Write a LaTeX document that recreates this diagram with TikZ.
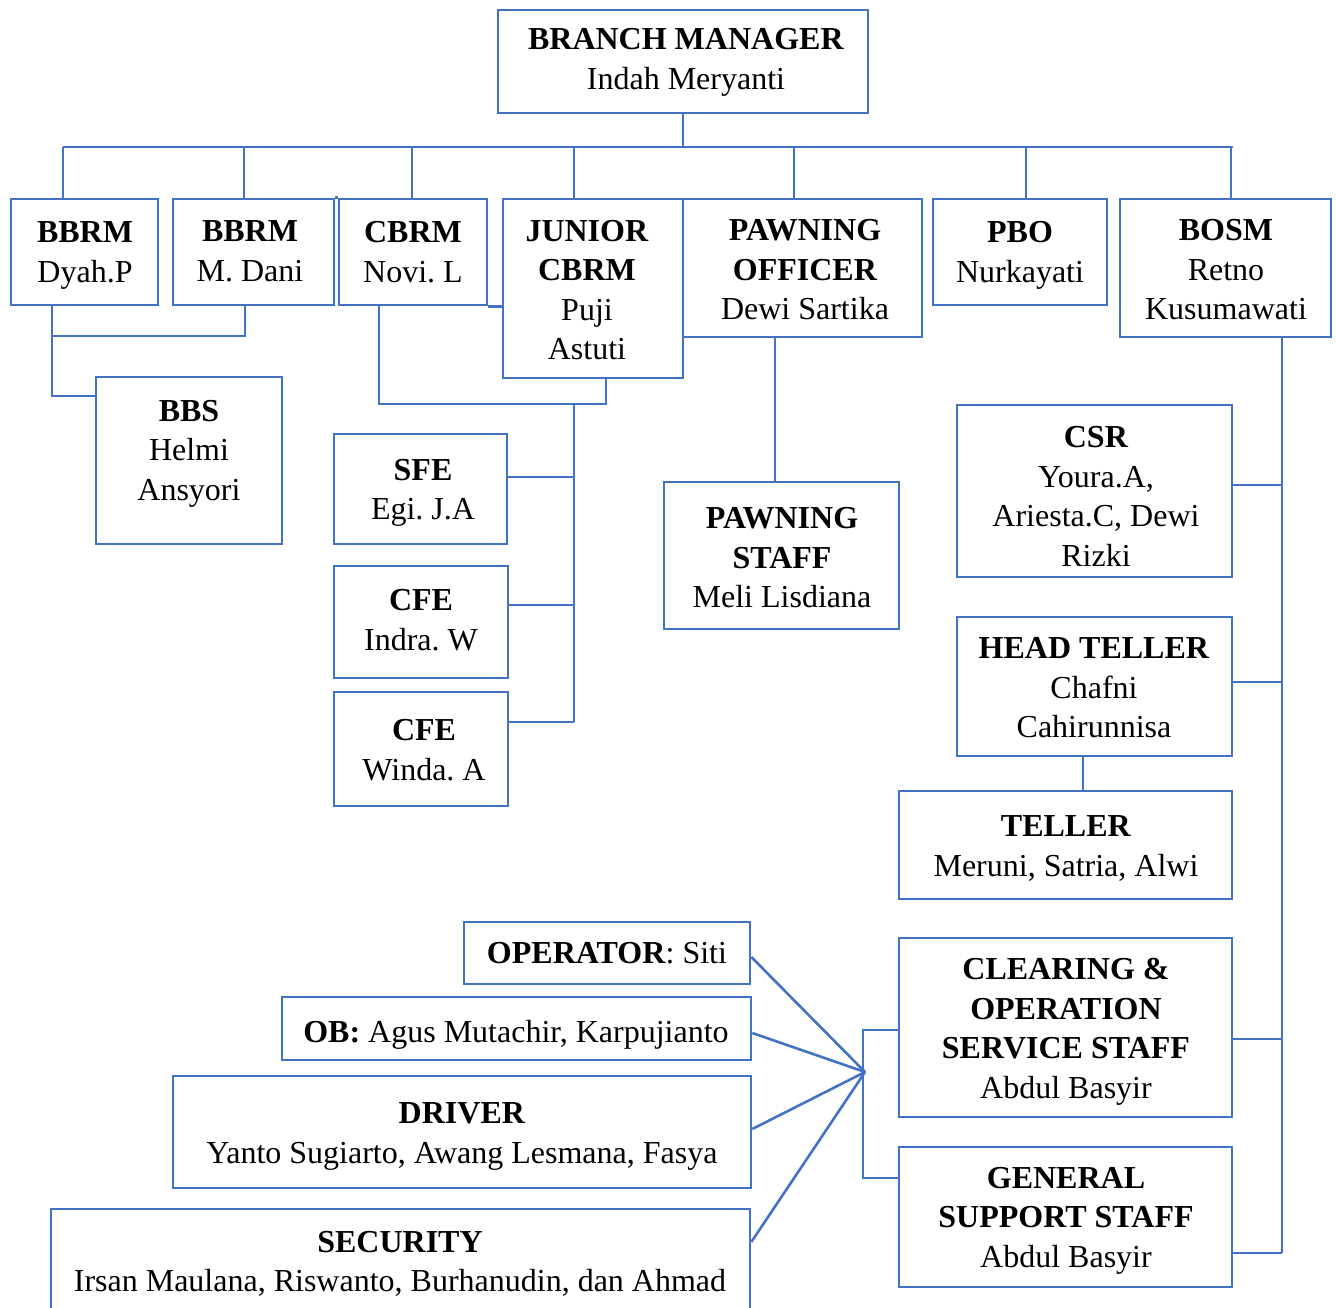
\documentclass[tikz,border=0pt]{standalone}
\usepackage{fontspec}
\setmainfont{Liberation Serif}
\frenchspacing
\definecolor{lnblue}{HTML}{4472C4}
\newcommand\ls{\rule[-9pt]{0pt}{39.5pt}}
\newcommand\mybox[5]{\node[box, minimum width={#4-#2}, minimum height={#5-#3}] (#1) at ({(#2+#4)/2},{(#3+#5)/2}) {};}
\begin{document}
\begin{tikzpicture}[x=1pt,y=-1pt,
  box/.style={draw=lnblue, line width=2.6pt, rectangle, inner sep=0pt},
  txt/.style={align=center, inner sep=0pt, font=\fontsize{32}{39.5}\selectfont\frenchspacing},
  conn/.style={draw=lnblue, line width=2.6pt}]
\useasboundingbox (0,0) rectangle (1336,1307);
% boxes
\mybox{bm}{498}{10}{868}{113}
\mybox{b1}{11}{199}{158}{305}
\mybox{b2}{173}{199}{334}{305}
\mybox{cb}{339}{199}{487}{305}
\mybox{jc}{503}{199}{683}{378}
\mybox{po}{683}{199}{922}{337}
\mybox{pbo}{933}{199}{1107}{305}
\mybox{bosm}{1120}{199}{1331}{337}
\mybox{bbs}{96}{377}{282}{544}
\mybox{sfe}{334}{434}{507}{544}
\mybox{cfea}{334}{566}{508}{678}
\mybox{cfeb}{334}{692}{508}{806}
\mybox{ps}{664}{482}{899}{629}
\mybox{csr}{957}{405}{1232}{577}
\mybox{ht}{957}{617}{1232}{756}
\mybox{tel}{899}{791}{1232}{899}
\mybox{cos}{899}{938}{1232}{1117}
\mybox{gss}{899}{1147}{1232}{1287}
\mybox{op}{464}{922}{750}{984}
\mybox{ob}{282}{997}{751}{1060}
\mybox{dr}{173}{1076}{751}{1188}
\mybox{sec}{51}{1209}{750}{1340}
% texts
\node[txt] (bmt) at (686,58.5) {\ls\textbf{BRANCH MANAGER}\\\ls Indah Meryanti};
\node[txt] (b1t) at (85,251.5) {\ls\textbf{BBRM}\\\ls Dyah.P};
\node[txt] (b2t) at (250,250.5) {\ls\textbf{BBRM}\\\ls M. Dani};
\node[txt] (cbt) at (413,251.5) {\ls\textbf{CBRM}\\\ls Novi. L};
\node[txt] (jct) at (587,289.5) {\ls\textbf{JUNIOR}\\\ls\textbf{CBRM}\\\ls Puji\\\ls Astuti};
\node[txt] (pot) at (805,269.5) {\ls\textbf{PAWNING}\\\ls\textbf{OFFICER}\\\ls Dewi Sartika};
\node[txt] (pbot) at (1020,251.5) {\ls\textbf{PBO}\\\ls Nurkayati};
\node[txt] (bosmt) at (1226,269.5) {\ls\textbf{BOSM}\\\ls Retno\\\ls Kusumawati};
\node[txt] (bbst) at (189,450) {\ls\textbf{BBS}\\\ls Helmi\\\ls Ansyori};
\node[txt] (sfet) at (423,489) {\ls\textbf{SFE}\\\ls Egi. J.A};
\node[txt] (cfeat) at (421,619.5) {\ls\textbf{CFE}\\\ls Indra. W};
\node[txt] (cfebt) at (424,749.5) {\ls\textbf{CFE}\\\ls Winda. A};
\node[txt] (pst) at (782,557.5) {\ls\textbf{PAWNING}\\\ls\textbf{STAFF}\\\ls Meli Lisdiana};
\node[txt] (csrt) at (1096,496) {\ls\textbf{CSR}\\\ls Youra.A,\\\ls Ariesta.C, Dewi\\\ls Rizki};
\node[txt] (htt) at (1094,687.5) {\ls\textbf{HEAD TELLER}\\\ls Chafni\\\ls Cahirunnisa};
\node[txt] (telt) at (1066,845.5) {\ls\textbf{TELLER}\\\ls Meruni, Satria, Alwi};
\node[txt] (cost) at (1066,1028) {\ls\textbf{CLEARING \&}\\\ls\textbf{OPERATION}\\\ls\textbf{SERVICE STAFF}\\\ls Abdul Basyir};
\node[txt] (gsst) at (1066,1217) {\ls\textbf{GENERAL}\\\ls\textbf{SUPPORT STAFF}\\\ls Abdul Basyir};
\node[txt] (opt) at (607,953) {\ls\textbf{OPERATOR}: Siti};
\node[txt] (obt) at (516,1032) {\ls\textbf{OB:} Agus Mutachir, Karpujianto};
\node[txt] (drt) at (462,1132.5) {\ls\textbf{DRIVER}\\\ls Yanto Sugiarto, Awang Lesmana, Fasya};
\node[txt] (sect) at (400,1261) {\ls\textbf{SECURITY}\\\ls Irsan Maulana, Riswanto, Burhanudin, dan Ahmad};
% connectors
\coordinate (busL) at (63,147);
\coordinate (busR) at (1233,147);
\coordinate (hub) at (865,1072);
\draw[conn] (bm.south) -- (bm.south |- busL);
\draw[conn] (busL) -- (busR);
\draw[conn] (busL) -- (b1.north -| busL);
\draw[conn] (244,147) -- (b2.north -| 244,0);
\draw[conn] (412,147) -- (cb.north -| 412,0);
\draw[conn] (574,147) -- (jc.north -| 574,0);
\draw[conn] (794,147) -- (po.north -| 794,0);
\draw[conn] (1026,147) -- (pbo.north -| 1026,0);
\draw[conn] (1231,147) -- (bosm.north -| 1231,0);
\draw[conn] (b2.north east) -- (cb.north west);
\draw[conn] (cb.south east) -- (jc.west |- cb.south east);
% BBRM / BBS
\draw[conn] (b1.south -| 52,0) -- (52,336) -| (b2.south -| 245,0);
\draw[conn] (52,336) |- (bbs.west |- 0,396);
% CBRM / JUNIOR
\draw[conn] (cb.south -| 379,0) |- (606,404) -- (jc.south -| 606,0);
\draw[conn] (574,404) -- (574,722);
\draw[conn] (sfe.east |- 0,477) -- (574,477);
\draw[conn] (cfea.east |- 0,605) -- (574,605);
\draw[conn] (cfeb.east |- 0,722) -- (574,722);
% Pawning
\draw[conn] (po.south -| 775,0) -- (ps.north -| 775,0);
% BOSM trunk
\draw[conn] (bosm.south -| 1282,0) -- (1282,1253);
\draw[conn] (csr.east |- 0,485) -- (1282,485);
\draw[conn] (ht.east |- 0,682) -- (1282,682);
\draw[conn] (cos.east |- 0,1039) -- (1282,1039);
\draw[conn] (gss.east |- 0,1253) -- (1282,1253);
\draw[conn] (ht.south -| 1083,0) -- (tel.north -| 1083,0);
% bracket and fan
\draw[conn] (cos.west |- 0,1030) -- (863,1030) -- (863,1178) -- (gss.west |- 0,1178);
\draw[conn] (op.east |- 0,957) -- (hub);
\draw[conn] (ob.east |- 0,1033) -- (hub);
\draw[conn] (dr.east |- 0,1129) -- (hub);
\draw[conn] (sec.east |- 0,1242) -- (hub);
\end{tikzpicture}
\end{document}
